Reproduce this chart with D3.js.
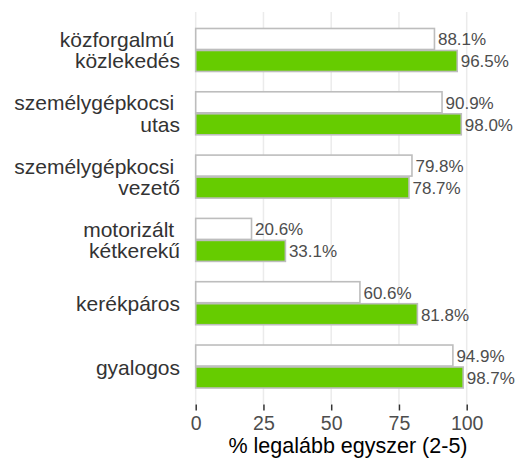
<!DOCTYPE html>
<html>
<head>
<meta charset="utf-8">
<script src="https://cdn.jsdelivr.net/npm/d3@7"></script>
<style>
  body { margin: 0; background: white; }
  svg { display: block; font-family: "Liberation Sans", Arial, sans-serif; }
</style>
</head>
<body>
<svg id="chart" width="517" height="461"></svg>
<script>
const categories = [
  ["közforgalmú ", "közlekedés"],
  ["személygépkocsi ", "utas"],
  ["személygépkocsi ", "vezető"],
  ["motorizált ", "kétkerekű"],
  ["kerékpáros"],
  ["gyalogos"]
];
const valuesWhite = [88.1, 90.9, 79.8, 20.6, 60.6, 94.9];
const valuesGreen = [96.5, 98.0, 78.7, 33.1, 81.8, 98.7];
const xTicks = [0, 25, 50, 75, 100];
const xTitle = "% legalább egyszer (2-5)";

const svg = d3.select("#chart");
const panelL = 195.7, panelR = 466.7, panelT = 12, panelB = 404.5;

const x = d3.scaleLinear().domain([0, 100]).range([panelL, panelR]);
// discrete axis with 0.6 expansion on both sides, like ggplot
const y = d3.scaleLinear().domain([0.4, 6.6]).range([panelT, panelB]);
const idx = categories.map((c, i) => i);

// grid
svg.append("g")
  .selectAll("line")
  .data(xTicks)
  .join("line")
  .attr("x1", d => x(d)).attr("x2", d => x(d))
  .attr("y1", panelT).attr("y2", panelB)
  .attr("stroke", "#ebebeb")
  .attr("stroke-width", 1.5);

// x axis
const xAxis = d3.axisBottom(x)
  .tickValues(xTicks)
  .tickSize(6)
  .tickPadding(6)
  .tickFormat(d3.format("d"));

const gx = svg.append("g")
  .attr("transform", `translate(0,${panelB})`)
  .call(xAxis);
gx.select(".domain").remove();
gx.selectAll(".tick line").attr("stroke", "#333").attr("stroke-width", 1.5);
gx.selectAll(".tick text")
  .attr("fill", "#4d4d4d")
  .style("font-size", "19.5px")
  .attr("dy", null)
  .attr("y", 25);

// title sits a bit right of the 0-100 range, centred on the wider panel
svg.append("text")
  .attr("x", 348)
  .attr("y", 453)
  .attr("text-anchor", "middle")
  .style("font-size", "21.5px")
  .attr("fill", "#000")
  .text(xTitle);

const barH = 21;
const off = 11;

function bars(vals, cls, dy, fill) {
  svg.append("g")
    .selectAll("rect")
    .data(vals)
    .join("rect")
    .attr("class", cls)
    .attr("x", x(0))
    .attr("y", (d, i) => y(i + 1) + dy - barH / 2)
    .attr("width", d => x(d) - x(0))
    .attr("height", barH)
    .attr("fill", fill)
    .attr("stroke", "#bdbdbd")
    .attr("stroke-width", 1.6);

  svg.append("g")
    .selectAll("text")
    .data(vals)
    .join("text")
    .attr("x", d => x(d) + 3.5)
    .attr("y", (d, i) => y(i + 1) + dy)
    .attr("dy", "0.38em")
    .attr("fill", "#4d4d4d")
    .style("font-size", "17px")
    .text(d => d.toFixed(1) + "%");
}

bars(valuesWhite, "bar0", -off, "#ffffff");
bars(valuesGreen, "bar1", off, "#66cc00");

// category labels
const lab = svg.append("g")
  .selectAll("text")
  .data(idx)
  .join("text")
  .attr("text-anchor", "end")
  .attr("fill", "#333")
  .style("font-size", "21px")
  .style("white-space", "pre");

lab.each(function (i) {
  const lines = categories[i];
  const c = y(i + 1);
  const t = d3.select(this);
  if (lines.length === 1) {
    t.append("tspan").attr("x", 180).attr("y", c + 8).text(lines[0]);
  } else {
    t.append("tspan").attr("x", 180).attr("y", c - 3).text(lines[0]);
    t.append("tspan").attr("x", 180).attr("y", c + 18.5).text(lines[1]);
  }
});
</script>
</body>
</html>
